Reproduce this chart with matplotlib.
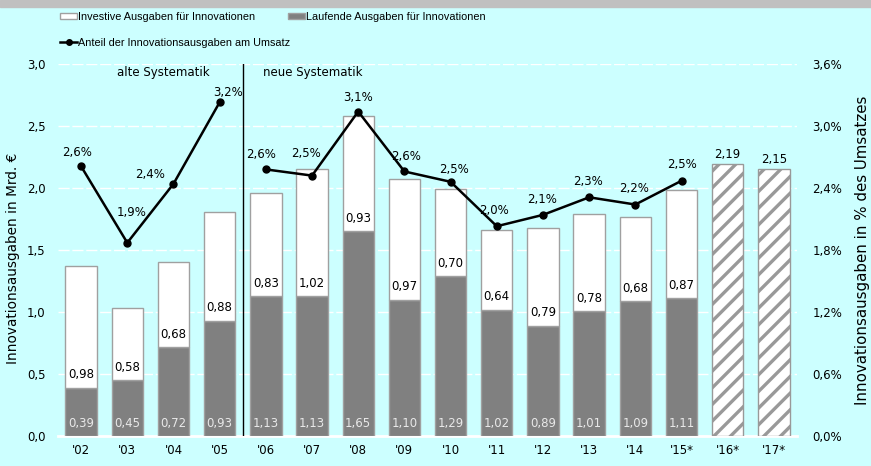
import numpy as np
import matplotlib
matplotlib.use("Agg")
import matplotlib.pyplot as plt
from matplotlib.patches import Patch
from matplotlib.lines import Line2D

# Werte aus der Grafik (Mrd. EUR bzw. % des Umsatzes)
jahre = ["'02", "'03", "'04", "'05", "'06", "'07", "'08", "'09", "'10",
         "'11", "'12", "'13", "'14", "'15*", "'16*", "'17*"]
laufend = [0.39, 0.45, 0.72, 0.93, 1.13, 1.13, 1.65, 1.10, 1.29, 1.02, 0.89, 1.01, 1.09, 1.11]
investiv = [0.98, 0.58, 0.68, 0.88, 0.83, 1.02, 0.93, 0.97, 0.70, 0.64, 0.79, 0.78, 0.68, 0.87]
plan = [2.19, 2.15]  # '16*, '17* (Planzahlen)
anteil_alt = [2.61, 1.87, 2.44, 3.23]  # '02-'05
anteil_neu = [2.58, 2.52, 3.14, 2.56, 2.46, 2.03, 2.14, 2.31, 2.24, 2.47]  # '06-'15

# Versatz der Prozent-Beschriftungen (Pixel, wie im Original)
label_dx = [-4, 4, -23, 8, -5, -6, 0, 2, 3, -3, -1, -1, -1, 0]
label_dy = [14, 30, 9, 10, 15, 22, 14, 15, 12, 16, 15, 16, 16, 16]

bg = "#CCFFFF"
grau = "#808080"
rand = "#A0A0A0"

plt.rcParams['font.family'] = ['DejaVu Sans']
plt.rcParams['hatch.linewidth'] = 2.4
plt.rcParams['hatch.color'] = "#999999"

fig = plt.figure(figsize=(8.71, 4.66), dpi=100, facecolor=bg)
ax = fig.add_axes([58/871, 30/466, 739/871, 372/466])
ax.set_facecolor(bg)
ax2 = ax.twinx()

x = np.arange(len(jahre))
xb = x[:len(laufend)]
w = 0.68

ax.bar(xb, laufend, w, color=grau, edgecolor=rand, linewidth=1, zorder=3)
ax.bar(xb, investiv, w, bottom=laufend, color="white", edgecolor=rand, linewidth=1, zorder=3)
ax.bar(x[len(laufend):], plan, w, color="white", edgecolor="#999999", hatch="//",
       linewidth=1, zorder=3)

for xi, l, v in zip(xb, laufend, investiv):
    ax.text(xi, 0.05, f"{l:.2f}".replace(".", ","), ha="center", va="bottom",
            fontsize=8.5, color="#E8E8E8", zorder=5)
    ax.text(xi, l + 0.05, f"{v:.2f}".replace(".", ","), ha="center", va="bottom",
            fontsize=8.5, color="black", zorder=5)
for xi, p in zip(x[len(laufend):], plan):
    ax.text(xi, p + 0.03, f"{p:.2f}".replace(".", ","), ha="center", va="bottom",
            fontsize=8.5, color="black", zorder=5)

ax.set_ylim(0, 3.0)
ax.set_xlim(-0.5, len(jahre) - 0.5)
ax.set_yticks(np.arange(0, 3.01, 0.5))
ax.set_yticklabels([f"{t:.1f}".replace(".", ",") for t in np.arange(0, 3.01, 0.5)])
ax.set_xticks(x)
ax.set_xticklabels(jahre)
ax.yaxis.grid(True, color="white", linewidth=1, linestyle=(0, (8, 2)), zorder=0)
ax.set_axisbelow(True)
ax.tick_params(axis="both", length=0, labelsize=8.5, pad=9)
ax.tick_params(axis="x", pad=6)
for s in ["top", "left", "right"]:
    ax.spines[s].set_visible(False)
ax.spines["bottom"].set_color("white")
ax.spines["bottom"].set_linewidth(2)

# Trennlinie alte / neue Systematik
ax.axvline(3.5, color="black", linewidth=1, zorder=4)
ax.text(1.77, 2.93, "alte Systematik", ha="center", va="center", fontsize=8.5)
ax.text(3.93, 2.93, "neue Systematik", ha="left", va="center", fontsize=8.5)

ax2.set_ylim(0, 3.6)
ax2.set_yticks(np.arange(0, 3.61, 0.6))
ax2.set_yticklabels([f"{t:.1f}%".replace(".", ",") for t in np.arange(0, 3.61, 0.6)])
ax2.tick_params(axis="y", length=0, labelsize=8.5, pad=11)
for s in ax2.spines.values():
    s.set_visible(False)

k = 0
for xs, ys in [(x[:4], anteil_alt), (x[4:4 + len(anteil_neu)], anteil_neu)]:
    ax2.plot(xs, ys, color="black", linewidth=1.8, marker="o", markersize=5, zorder=6)
    for xi, yi in zip(xs, ys):
        ax2.annotate(f"{yi:.1f}%".replace(".", ","), (xi, yi),
                     xytext=(label_dx[k], label_dy[k]), textcoords="offset pixels",
                     ha="center", va="center", fontsize=8.5)
        k += 1

# Achsentitel
fig.text(13/871, 1 - 258/466, "Innovationsausgaben in Mrd. €", rotation=90,
         ha="center", va="center", fontsize=9.8)
fig.text(862/871, 1 - 250/466, "Innovationsausgaben in % des Umsatzes", rotation=90,
         ha="center", va="center", fontsize=10.8)

# graues Band oben
fig.patches.append(plt.Rectangle((0, 1 - 7/466), 1, 7/466, transform=fig.transFigure,
                                 color="#C0C0C0", zorder=0))

leg_font = {"family": ["Liberation Sans", "DejaVu Sans"], "size": 7.8}
h_inv = Patch(facecolor="white", edgecolor=rand, linewidth=1)
h_lauf = Patch(facecolor=grau, edgecolor=rand, linewidth=1)
h_line = Line2D([], [], color="black", linewidth=1.8, marker="o", markersize=4)
fig.legend([h_inv, h_line], ["Investive Ausgaben für Innovationen",
                             "Anteil der Innovationsausgaben am Umsatz"],
           loc="upper left", bbox_to_anchor=(60/871, 1 - 12/466), frameon=False,
           prop=leg_font, handlelength=1.6, handleheight=0.55, handletextpad=0.1,
           borderaxespad=0, borderpad=0, labelspacing=1.45)
fig.legend([h_lauf], ["Laufende Ausgaben für Innovationen"],
           loc="upper left", bbox_to_anchor=(288/871, 1 - 12/466), frameon=False,
           prop=leg_font, handlelength=1.6, handleheight=0.55, handletextpad=0.1,
           borderaxespad=0, borderpad=0)

fig.savefig("out.png", dpi=100, facecolor=bg)
